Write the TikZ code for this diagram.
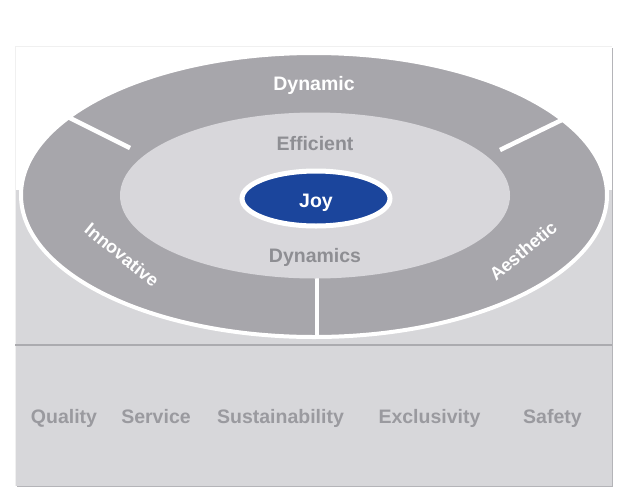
\documentclass[tikz,border=0pt]{standalone}
\usepackage{fontspec}
\setmainfont{Liberation Sans}
\definecolor{ringgray}{HTML}{A7A6AB}
\definecolor{innergray}{HTML}{D8D7DB}
\definecolor{panelgray}{HTML}{D7D7DA}
\definecolor{textgray}{HTML}{8E8E93}
\definecolor{bottomgray}{HTML}{9A9A9F}
\definecolor{joyblue}{HTML}{1B459C}
\definecolor{shadowgray}{HTML}{B4B4B8}
\definecolor{linegray}{HTML}{ABABAF}
\tikzset{
  lbl/.style={font=\fontsize{19.5}{19.5}\selectfont\bfseries, inner sep=0pt, anchor=base},
  ringlbl/.style={lbl, text=white},
  midlbl/.style={lbl, text=textgray},
  baselbl/.style={lbl, text=bottomgray},
  curvelbl/.style={font=\fontsize{18}{18}\selectfont\bfseries, inner sep=0pt, text=white},
  divider/.style={draw=white, line width=4.5pt},
}
\begin{document}
\begin{tikzpicture}[x=1pt,y=-1pt]
\useasboundingbox (0,0) rectangle (630,504);
% panel
\fill[white] (15,46) rectangle (612,486);
\fill[panelgray] (15,190) rectangle (612,486);
\draw[shadowgray, line width=1.5pt] (612.5,48) -- (612.5,486.5) -- (17,486.5);
\draw[black!6, line width=0.6pt] (15,486) -- (15,46) -- (612,46);
\draw[linegray, line width=1.6pt] (15,345) -- (612,345);
% outer ring
\coordinate (c) at (314,195);
\filldraw[fill=ringgray, draw=white, line width=4pt] (c) ellipse [x radius=293, y radius=142];
% dividers
\coordinate (l1) at (130,148);
\coordinate (l2) at (62,114);
\coordinate (r1) at (500,150);
\coordinate (r2) at (570,116);
\coordinate (b1) at (317,260);
\coordinate (b2) at (317,339);
\draw[divider] (l1) -- (l2);
\draw[divider] (r1) -- (r2);
\draw[divider] (b1) -- (b2);
% inner ellipse
\fill[innergray] (315,195.5) ellipse [x radius=195, y radius=83];
% joy
\filldraw[fill=joyblue, draw=white, line width=5pt] (316,198.5) ellipse [x radius=74, y radius=27.5];
% labels
\node[ringlbl] (dynamic) at (314,90) {Dynamic};
\node[midlbl] (efficient) at (315,150) {Efficient};
\node[ringlbl] (joy) at (316,207) {Joy};
\node[midlbl] (dynamics) at (315,262) {Dynamics};
\node[curvelbl, rotate=-39] (innov) at (122,255) {Innovative};
\node[curvelbl, rotate=40] (aesth) at (523,251) {Aesthetic};
% base labels
\node[baselbl] (quality) at (64,423) {Quality};
\node[baselbl] (service) at (156,423) {Service};
\node[baselbl] (sustain) at (280.5,423) {Sustainability};
\node[baselbl] (exclus) at (429.5,423) {Exclusivity};
\node[baselbl] (safety) at (552.5,423) {Safety};
\end{tikzpicture}
\end{document}
